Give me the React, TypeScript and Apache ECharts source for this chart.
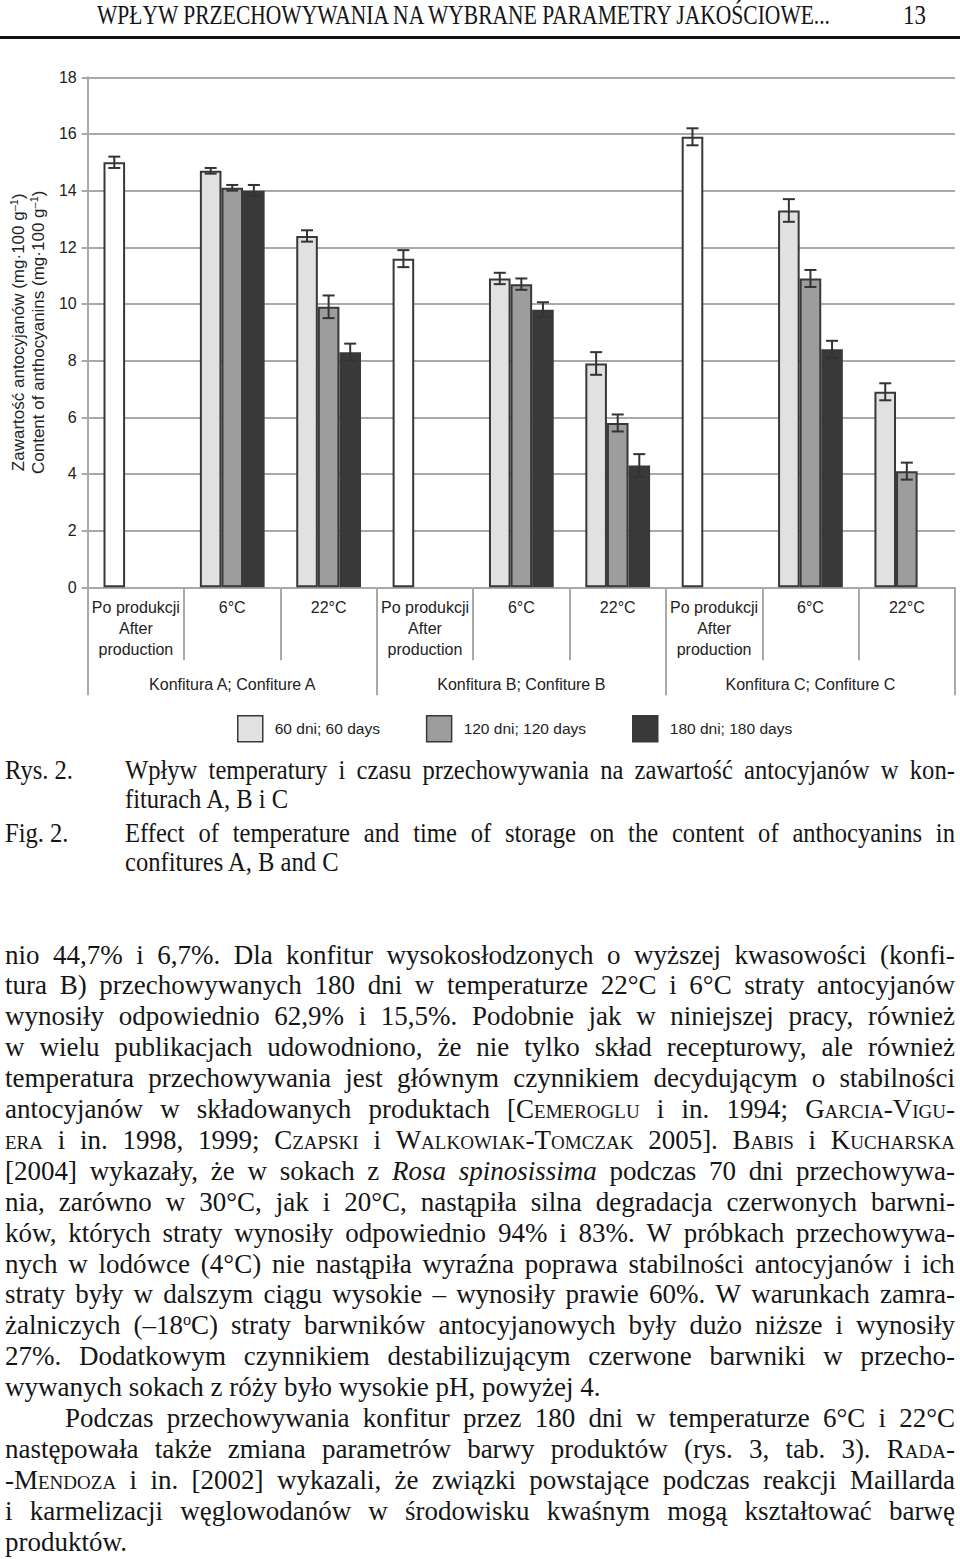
import React, { useEffect, useLayoutEffect, useRef } from "react";
import * as echarts from "echarts";

// ---------- chart data ----------
const categories = [
  "Po produkcji\nAfter\nproduction", "6°C", "22°C",
  "Po produkcji\nAfter\nproduction", "6°C", "22°C",
  "Po produkcji\nAfter\nproduction", "6°C", "22°C",
];
const groups = ["Konfitura A; Confiture A", "Konfitura B; Confiture B", "Konfitura C; Confiture C"];
const seriesNames = ["60 dni; 60 days", "120 dni; 120 days", "180 dni; 180 days"];
const afterProductionIdx = [0, 3, 6];
const days60 = [15.0, 14.7, 12.4, 11.6, 10.9, 7.9, 15.9, 13.3, 6.9];
const days120 = [null, 14.1, 9.9, null, 10.7, 5.8, null, 10.9, 4.1];
const days180 = [null, 14.0, 8.3, null, 9.8, 4.3, null, 8.4, null];
const err60 = [0.2, 0.1, 0.2, 0.3, 0.2, 0.4, 0.3, 0.4, 0.3];
const err120 = [null, 0.1, 0.4, null, 0.2, 0.3, null, 0.3, 0.3];
const err180 = [null, 0.2, 0.3, null, 0.26, 0.4, null, 0.3, null];
const yMin = 0;
const yMax = 18;
const yInterval = 2;

const COLORS = ["#e1e1e1", "#9d9d9d", "#393939"];
const WHITE = "#ffffff";
const BORDER = "#383838";
const GRID = "#a9a9a9";
const BAR_FRAC = 0.224;

// ---------- page text ----------
const headerText = "WPŁYW PRZECHOWYWANIA NA WYBRANE PARAMETRY JAKOŚCIOWE...";
const pageNumber = "13";
const captionLines = [
  { label: "Rys. 2.", t: "Wpływ temperatury i czasu przechowywania na zawartość antocyjanów w kon-", j: true, y: 770 },
  { label: "", t: "fiturach A, B i C", j: false, y: 799 },
  { label: "Fig. 2.", t: "Effect of temperature and time of storage on the content of anthocyanins in", j: true, y: 833 },
  { label: "", t: "confitures A, B and C", j: false, y: 862 },
];
const bodyLines = [
  { t: "nio 44,7% i 6,7%. Dla konfitur wysokosłodzonych o wyższej kwasowości (konfi-", j: true },
  { t: "tura B) przechowywanych 180 dni w temperaturze 22°C i 6°C straty antocyjanów", j: true },
  { t: "wynosiły odpowiednio 62,9% i 15,5%. Podobnie jak w niniejszej pracy, również", j: true },
  { t: "w wielu publikacjach udowodniono, że nie tylko skład recepturowy, ale również", j: true },
  { t: "temperatura przechowywania jest głównym czynnikiem decydującym o stabilności", j: true },
  { t: "antocyjanów w składowanych produktach [<sc>Cemeroglu</sc> i in. 1994; <sc>Garcia-Vigu-</sc>", j: true },
  { t: "<sc>era</sc> i in. 1998, 1999; <sc>Czapski</sc> i <sc>Walkowiak-Tomczak</sc> 2005]. <sc>Babis</sc> i <sc>Kucharska</sc>", j: true },
  { t: "[2004] wykazały, że w sokach z <i>Rosa spinosissima</i> podczas 70 dni przechowywa-", j: true },
  { t: "nia, zarówno w 30°C, jak i 20°C, nastąpiła silna degradacja czerwonych barwni-", j: true },
  { t: "ków, których straty wynosiły odpowiednio 94% i 83%. W próbkach przechowywa-", j: true },
  { t: "nych w lodówce (4°C) nie nastąpiła wyraźna poprawa stabilności antocyjanów i ich", j: true },
  { t: "straty były w dalszym ciągu wysokie – wynosiły prawie 60%. W warunkach zamra-", j: true },
  { t: "żalniczych (–18<sup>o</sup>C) straty barwników antocyjanowych były dużo niższe i wynosiły", j: true },
  { t: "27%. Dodatkowym czynnikiem destabilizującym czerwone barwniki w przecho-", j: true },
  { t: "wywanych sokach z róży było wysokie pH, powyżej 4.", j: false },
  { t: "Podczas przechowywania konfitur przez 180 dni w temperaturze 6°C i 22°C", j: true, indent: true },
  { t: "następowała także zmiana parametrów barwy produktów (rys. 3, tab. 3). <sc>Rada-</sc>", j: true },
  { t: "-<sc>Mendoza</sc> i in. [2002] wykazali, że związki powstające podczas reakcji Maillarda", j: true },
  { t: "i karmelizacji węglowodanów w środowisku kwaśnym mogą kształtować barwę", j: true },
  { t: "produktów.", j: false },
];

const SERIF = "'Liberation Serif', 'Times New Roman', serif";
const SANS = "'Liberation Sans', Arial, sans-serif";
const TEXT_SIZE = 27;
const BODY_SX = 1.0;
const CAPTION_SX = 0.91;
const LINE_H = 31;

type Seg = { t: string; sc: boolean; i: boolean; sup: boolean };

function parseWords(line: string): Seg[][] {
  const words: Seg[][] = [];
  let cur: Seg[] = [];
  let st = { sc: false, i: false, sup: false };
  let buf = "";
  const flush = () => {
    if (buf) {
      cur.push({ t: buf, ...st });
      buf = "";
    }
  };
  const tags: [string, keyof typeof st, boolean][] = [
    ["<sc>", "sc", true], ["</sc>", "sc", false],
    ["<i>", "i", true], ["</i>", "i", false],
    ["<sup>", "sup", true], ["</sup>", "sup", false],
  ];
  let k = 0;
  outer: while (k < line.length) {
    for (const [tag, key, val] of tags) {
      if (line.startsWith(tag, k)) {
        flush();
        st = { ...st, [key]: val };
        k += tag.length;
        continue outer;
      }
    }
    const ch = line[k];
    if (ch === " ") {
      flush();
      if (cur.length) words.push(cur);
      cur = [];
      k++;
      continue;
    }
    buf += ch;
    k++;
  }
  flush();
  if (cur.length) words.push(cur);
  return words;
}

function renderWord(word: Seg[], key: number) {
  return (
    <span key={key}>
      {word.map((s, n) => (
        <span
          key={n}
          style={{
            fontVariant: s.sc ? "small-caps" : undefined,
            fontStyle: s.i ? "italic" : undefined,
            fontSize: s.sup ? "0.6em" : undefined,
            verticalAlign: s.sup ? "0.55em" : undefined,
            lineHeight: s.sup ? "1" : undefined,
          }}
        >
          {s.t}
        </span>
      ))}
    </span>
  );
}

function TextLine({ text, left, width, yc, justify, sx }: { text: string; left: number; width: number; yc: number; justify: boolean; sx: number }) {
  const words = parseWords(text);
  const base: React.CSSProperties = {
    position: "absolute",
    left,
    top: yc - LINE_H / 2,
    height: LINE_H,
    lineHeight: LINE_H + "px",
    fontFamily: SERIF,
    fontSize: TEXT_SIZE,
    color: "#151515",
    whiteSpace: "nowrap",
    transform: `scaleX(${sx})`,
    transformOrigin: "0 0",
  };
  if (justify) {
    return (
      <div style={{ ...base, width: width / sx, display: "flex", justifyContent: "space-between" }}>
        {words.map((w, i) => renderWord(w, i))}
      </div>
    );
  }
  return (
    <div style={base}>
      {words.map((w, i) => (
        <React.Fragment key={i}>
          {i > 0 ? " " : null}
          {renderWord(w, i)}
        </React.Fragment>
      ))}
    </div>
  );
}

function FitText({ text, left, yc, width, size }: { text: string; left: number; yc: number; width: number; size: number }) {
  const ref = useRef<HTMLSpanElement>(null);
  useLayoutEffect(() => {
    const el = ref.current;
    if (!el) return;
    el.style.transform = "none";
    const w = el.getBoundingClientRect().width;
    if (w > 0) el.style.transform = `scaleX(${width / w})`;
  }, [text, width]);
  return (
    <span
      ref={ref}
      style={{
        position: "absolute",
        left,
        top: yc - size * 0.6,
        display: "inline-block",
        whiteSpace: "nowrap",
        fontFamily: SERIF,
        fontSize: size,
        lineHeight: size * 1.2 + "px",
        color: "#151515",
        transformOrigin: "0 0",
      }}
    >
      {text}
    </span>
  );
}

function Chart() {
  const ref = useRef<HTMLDivElement>(null);
  useEffect(() => {
    if (!ref.current) return;
    const chart = echarts.init(ref.current, undefined, { renderer: "svg" });
    const values = [days60, days120, days180];
    const errors = [err60, err120, err180];

    const barSeries = values.map((arr, s) => ({
      name: seriesNames[s],
      type: "bar",
      xAxisIndex: 0,
      barWidth: BAR_FRAC * 100 + "%",
      barGap: "0%",
      itemStyle: { color: COLORS[s], borderColor: BORDER, borderWidth: 2 },
      data: arr.map((v, i) =>
        v === null
          ? "-"
          : s === 0 && afterProductionIdx.includes(i)
          ? { value: v, itemStyle: { color: WHITE } }
          : v
      ),
      z: 2,
    }));

    const errSeries = values.map((arr, s) => ({
      type: "custom",
      xAxisIndex: 0,
      z: 5,
      encode: { x: 0, y: 1 },
      data: arr
        .map((v, i) => (v === null ? null : [i, v, errors[s][i] as number]))
        .filter((d) => d !== null),
      renderItem: (params: any, api: any) => {
        const idx = api.value(0);
        const val = api.value(1);
        const err = api.value(2);
        const c = api.coord([idx, val]);
        const band = api.size([1, 0])[0];
        const bw = band * BAR_FRAC;
        const x = c[0] + (s - 1) * bw;
        const top = api.coord([idx, val + err])[1];
        const bot = api.coord([idx, val - err])[1];
        const cap = 6;
        const style = { stroke: "#333333", lineWidth: 2 };
        return {
          type: "group",
          children: [
            { type: "line", shape: { x1: x, y1: top, x2: x, y2: bot }, style },
            { type: "line", shape: { x1: x - cap, y1: top, x2: x + cap, y2: top }, style },
            { type: "line", shape: { x1: x - cap, y1: bot, x2: x + cap, y2: bot }, style },
          ],
        };
      },
    }));

    chart.setOption({
      animation: false,
      grid: { left: 86, right: 5, top: 77.3, bottom: 760 - 587.3 },
      legend: {
        data: seriesNames,
        left: 232,
        top: 710,
        itemWidth: 25,
        itemHeight: 26,
        itemGap: 46,
        icon: "rect",
        selectedMode: false,
        itemStyle: { borderColor: BORDER, borderWidth: 1.5 },
        textStyle: { fontSize: 15.5, color: "#222", fontFamily: SANS, padding: [0, 0, 0, 7] },
      },
      xAxis: [
        {
          type: "category",
          data: categories,
          axisLine: { lineStyle: { color: GRID, width: 2 } },
          axisTick: { show: true, interval: 0, length: 73, lineStyle: { color: GRID, width: 2 } },
          axisLabel: {
            interval: 0,
            margin: 10,
            fontSize: 16,
            lineHeight: 21,
            color: "#222",
            fontFamily: SANS,
          },
        },
        {
          type: "category",
          data: groups,
          position: "bottom",
          axisLine: { show: false },
          axisTick: { show: true, interval: 0, length: 108, lineStyle: { color: GRID, width: 2 } },
          axisLabel: { interval: 0, margin: 89, fontSize: 16, color: "#222", fontFamily: SANS },
        },
      ],
      yAxis: {
        type: "value",
        min: yMin,
        max: yMax,
        interval: yInterval,
        axisLine: { show: true, lineStyle: { color: GRID, width: 2 } },
        axisTick: { show: true, length: 6, lineStyle: { color: GRID, width: 2 } },
        splitLine: { lineStyle: { color: GRID, width: 2 } },
        axisLabel: { margin: 11, fontSize: 16, color: "#222", fontFamily: SANS },
        name:
          "Zawartość antocyjanów (mg·100 g{sup|–1})\nContent of anthocyanins (mg·100 g{sup|–1})",
        nameLocation: "middle",
        nameRotate: 90,
        nameGap: 33,
        nameTextStyle: {
          fontSize: 17,
          lineHeight: 20,
          color: "#222",
          fontFamily: SANS,
          rich: { sup: { fontSize: 11, lineHeight: 20, verticalAlign: "top", fontFamily: SANS, color: "#222" } },
        },
      },
      series: [...barSeries, ...errSeries],
    });
    return () => chart.dispose();
  }, []);
  return <div ref={ref} style={{ position: "absolute", left: 0, top: 0, width: 960, height: 760 }} />;
}

export default function App() {
  return (
    <div
      style={{
        position: "absolute",
        left: 0,
        top: 0,
        width: 960,
        height: 1559,
        overflow: "hidden",
        background: "#ffffff",
      }}
    >
      <Chart />
      <FitText text={headerText} left={97} yc={15} width={733} size={27} />
      <div
        style={{
          position: "absolute",
          left: 903,
          top: 15 - 16,
          fontFamily: SERIF,
          fontSize: 27,
          lineHeight: "32px",
          color: "#151515",
          transform: "scaleX(0.85)",
          transformOrigin: "0 0",
        }}
      >
        {pageNumber}
      </div>
      <div style={{ position: "absolute", left: 0, top: 36, width: 960, height: 3, background: "#111" }} />
      {captionLines.map((c, i) => (
        <React.Fragment key={i}>
          {c.label ? <TextLine text={c.label} left={5} width={80} yc={c.y} justify={false} sx={CAPTION_SX} /> : null}
          <TextLine text={c.t} left={125} width={830} yc={c.y} justify={c.j} sx={CAPTION_SX} />
        </React.Fragment>
      ))}
      {bodyLines.map((l, i) => (
        <TextLine
          key={i}
          text={l.t}
          left={(l as any).indent ? 65 : 5}
          width={(l as any).indent ? 890 : 950}
          yc={955 + i * 30.9}
          justify={l.j}
          sx={BODY_SX}
        />
      ))}
    </div>
  );
}
